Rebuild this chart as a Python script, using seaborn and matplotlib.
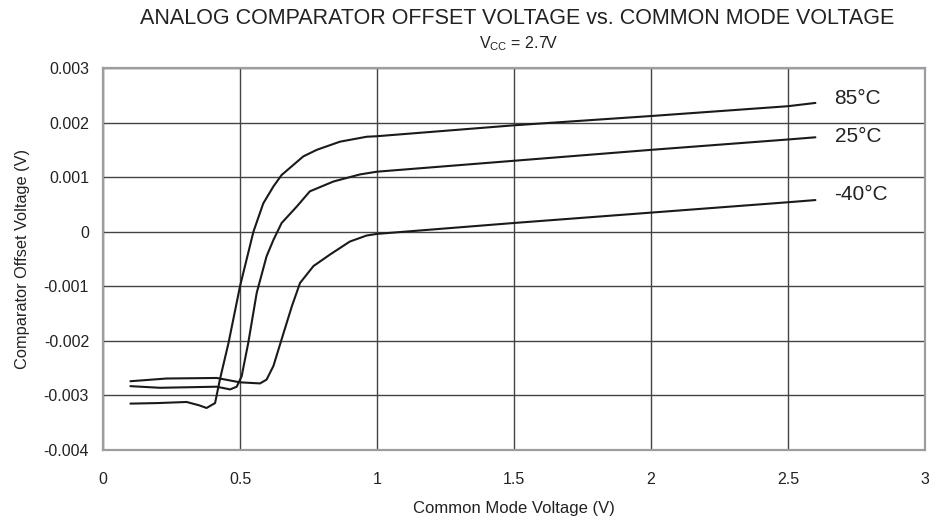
import numpy as np
import pandas as pd
import matplotlib
matplotlib.use("Agg")
import matplotlib.pyplot as plt
import seaborn as sns

# ---- data ----
x85 = [0.1, 0.2, 0.305, 0.35, 0.378, 0.409, 0.427, 0.458, 0.5, 0.549, 0.585, 0.622, 0.652,
       0.731, 0.78, 0.865, 0.962, 1.0, 1.5, 2.0, 2.5, 2.6]
y85 = [-0.00315, -0.00314, -0.00312, -0.00318, -0.00323, -0.00314, -0.0027, -0.00204, -0.0010,
       0.0, 0.00052, 0.00083, 0.00104, 0.00138, 0.0015, 0.00165, 0.00174, 0.00175, 0.00195,
       0.00212, 0.0023, 0.00236]
x25 = [0.1, 0.208, 0.415, 0.464, 0.488, 0.506, 0.53, 0.561, 0.597, 0.622, 0.652, 0.707, 0.755,
       0.841, 0.938, 1.0, 1.5, 2.0, 2.5, 2.6]
y25 = [-0.00283, -0.00286, -0.00284, -0.00289, -0.00284, -0.00265, -0.00204, -0.00112, -0.00045,
       -0.00015, 0.00016, 0.00046, 0.00074, 0.00092, 0.00105, 0.0011, 0.0013, 0.0015, 0.00169,
       0.00173]
xm40 = [0.1, 0.232, 0.415, 0.5, 0.573, 0.597, 0.622, 0.652, 0.689, 0.719, 0.768, 0.828, 0.901,
        0.962, 1.0, 1.5, 2.0, 2.5, 2.6]
ym40 = [-0.00274, -0.00269, -0.00268, -0.00276, -0.00278, -0.00271, -0.00246, -0.00197, -0.00137,
        -0.00094, -0.00063, -0.00042, -0.00018, -0.00007, -0.00004, 0.00016, 0.00035, 0.00054,
        0.00058]
series_names = ["85°C", "25°C", "-40°C"]
label_y = [0.00245, 0.00174, 0.00068]

x_ticks = [0, 0.5, 1, 1.5, 2, 2.5, 3]
x_tick_labels = ["0", "0.5", "1", "1.5", "2", "2.5", "3"]
y_ticks = [-0.004, -0.003, -0.002, -0.001, 0, 0.001, 0.002, 0.003]
y_tick_labels = ["-0.004", "-0.003", "-0.002", "-0.001", "0", "0.001", "0.002", "0.003"]

title = "ANALOG COMPARATOR OFFSET VOLTAGE vs. COMMON MODE VOLTAGE"
subtitle = r"V$_{\mathregular{CC}}$ = 2.7V"
xlabel = "Common Mode Voltage (V)"
ylabel = "Comparator Offset Voltage (V)"

frames = []
for name, xs, ys in zip(series_names, [x85, x25, xm40], [y85, y25, ym40]):
    frames.append(pd.DataFrame({"x": xs, "y": ys, "T": name}))
df = pd.concat(frames, ignore_index=True)

sns.set_theme(style="white")
plt.rcParams["font.family"] = ["Liberation Sans", "DejaVu Sans"]
plt.rcParams["axes.unicode_minus"] = False

fig = plt.figure(figsize=(9.41, 5.21), dpi=100)
ax = fig.add_axes([103 / 941, 1 - 450 / 521, 822 / 941, 382 / 521])

sns.lineplot(data=df, x="x", y="y", hue="T", palette=["#1a1a1a"] * 3,
             estimator=None, sort=True, linewidth=1.5, legend=False, ax=ax)

ax.set_xlim(0, 3)
ax.set_ylim(-0.004, 0.003)
ax.set_xticks(x_ticks)
ax.set_xticklabels(x_tick_labels)
ax.set_yticks(y_ticks)
ax.set_yticklabels(y_tick_labels)
ax.tick_params(axis="both", labelsize=11.5, length=0, colors="#222222")
ax.tick_params(axis="x", pad=16)
ax.tick_params(axis="y", pad=10)
ax.grid(True, color="#444444", linewidth=1.0)
for s in ax.spines.values():
    s.set_color("#9a9ea2")
    s.set_linewidth(1.6)

ax.set_xlabel(xlabel, fontsize=12, color="#222222", labelpad=10)
ax.set_ylabel(ylabel, fontsize=11.8, color="#222222", labelpad=10)

for name, ly in zip(series_names, label_y):
    ax.text(2.67, ly, name, fontsize=15, color="#222222", ha="left", va="center")

fig.text(517 / 941, 1 - 18 / 521, title, fontsize=15.5, ha="center", va="center",
         color="#222222")
fig.text(518 / 941, 1 - 44 / 521, subtitle, fontsize=11.5, ha="center", va="center", color="#222222")

fig.savefig("out.png", dpi=100)
